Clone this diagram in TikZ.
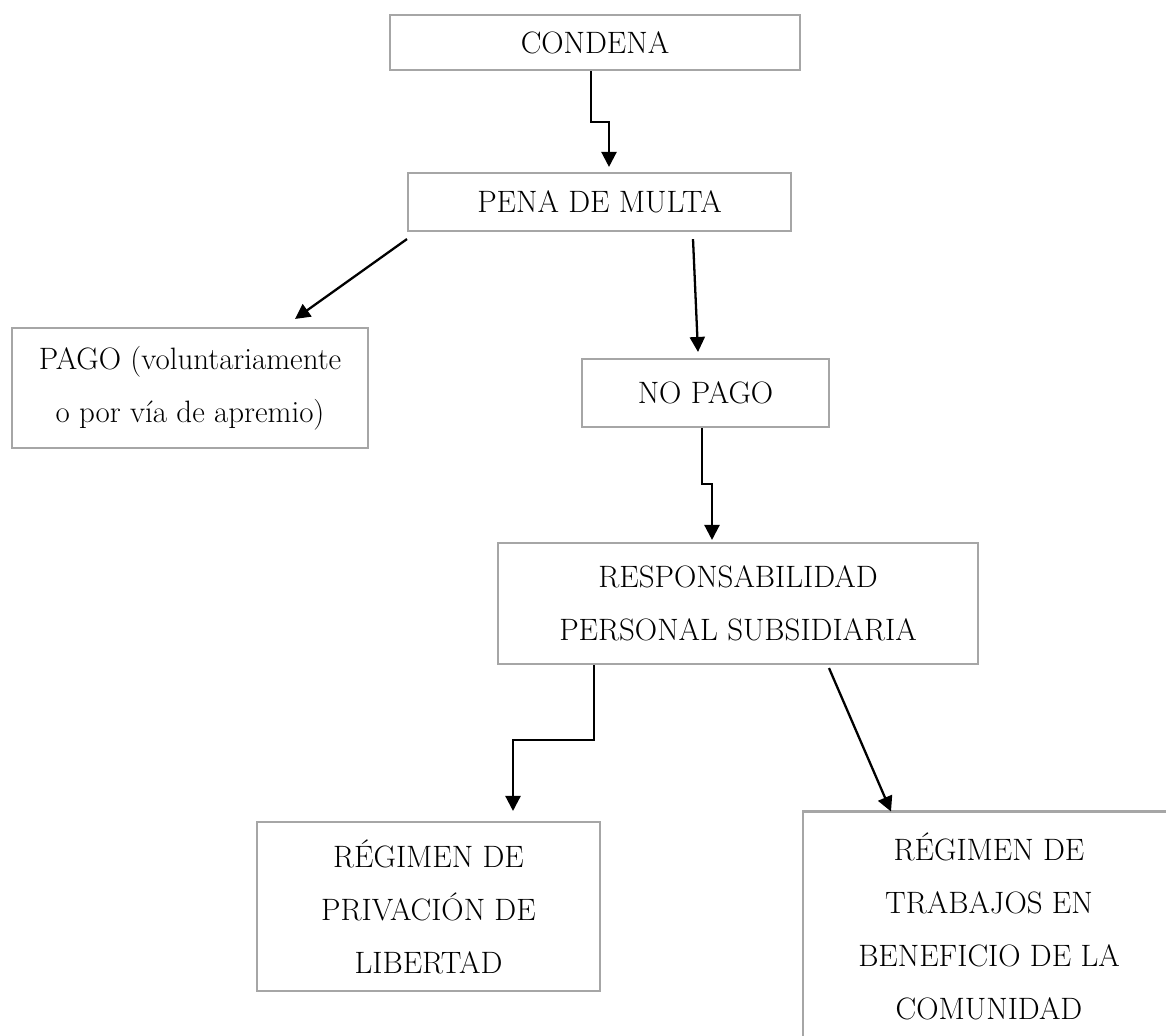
\documentclass[tikz,border=0pt]{standalone}
\usepackage{fontspec}
\usetikzlibrary{arrows.meta,calc}
\definecolor{boxgray}{HTML}{A6A6A6}
\begin{document}
\begin{tikzpicture}[x=0.02cm,y=-0.02cm,
  flowbox/.style={draw=boxgray, line width=1.2pt, rectangle, inner sep=0pt, align=center,
    font={\fontsize{17.6pt}{30.2pt}\selectfont}, text=black},
  arr/.style={draw=black, line width=1.3pt, -{Triangle[width=0.3cm,length=0.3cm]}}]
\useasboundingbox (0,0) rectangle (1166,1035);
\clip (0,0) rectangle (1166,1035);

\node[flowbox, minimum width=8.2cm, minimum height=1.1cm] (condena) at (595,42.5) {CONDENA};
\node[flowbox, minimum width=7.66cm, minimum height=1.16cm] (pena) at (599.5,202) {PENA DE MULTA};
\node[flowbox, minimum width=7.12cm, minimum height=2.4cm] (pago) at (190,388) {PAGO (voluntariamente\\o por vía de apremio)};
\node[flowbox, minimum width=4.94cm, minimum height=1.36cm] (nopago) at (705.5,393) {NO PAGO};
\node[flowbox, minimum width=9.6cm, minimum height=2.42cm] (resp) at (738,603.5) {RESPONSABILIDAD\\PERSONAL SUBSIDIARIA};
\node[flowbox, minimum width=6.86cm, minimum height=3.38cm] (priv) at (428.5,906.5) {RÉGIMEN DE\\PRIVACIÓN DE\\LIBERTAD};
\node[flowbox, minimum width=7.44cm, minimum height=4.58cm] (trab) at (989,926) {RÉGIMEN DE\\TRABAJOS EN\\BENEFICIO DE LA\\COMUNIDAD};

\draw[arr] ($(condena.south)+(-4,0)$) -- ++(0,51) -| ($(pena.north)+(9.5,-5)$);
\draw[arr] ($(pena.south west)+(0,7)$) -- ($(pago.north)+(105,-8)$);
\draw[arr] ($(pena.south)+(93.5,7)$) -- ($(nopago.north)+(-7.5,-6)$);
\draw[arr] ($(nopago.south)+(-3.5,0)$) -- ++(0,56) -| ($(resp.north)+(-26,-2)$);
\draw[arr] ($(resp.south)+(-144,0)$) -- ++(0,75) -| ($(priv.north)+(84.5,-10)$);
\draw[arr] ($(resp.south)+(91,3)$) -- ($(trab.north)+(-98,1)$);
\end{tikzpicture}
\end{document}
